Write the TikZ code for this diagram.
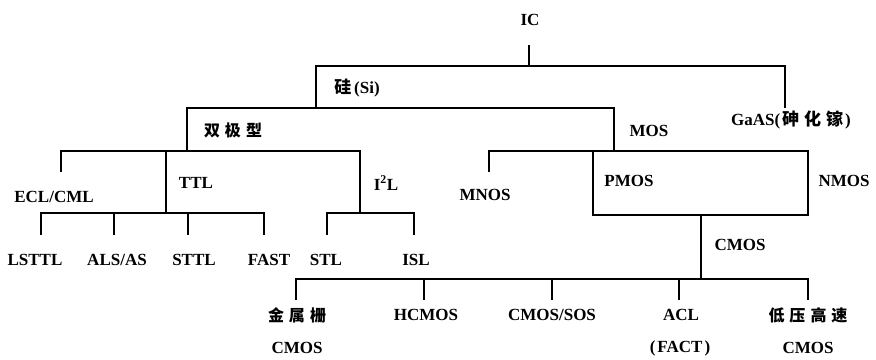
\documentclass[tikz,border=0pt]{standalone}
\usepackage{fontspec}
\setmainfont{Liberation Serif}
\newfontfamily\cjk{Noto Sans CJK SC}
\begin{document}
\begin{tikzpicture}[x=1pt,y=-1pt,line width=1.3pt,
  lbl/.style={font=\bfseries\fontsize{17}{17}\selectfont,inner sep=0pt},
  cj/.style={font=\cjk\bfseries\fontsize{16}{16}\selectfont,inner sep=0pt}]
\useasboundingbox (0,0) rectangle (876,359);
% labels
\node[lbl] (ic) at (530,20) {IC};
\node[lbl] (si) at (357,88) {{\cjk 硅}\,(Si)};
\node[cj] (bip) at (233,130) {双\kern5pt 极\kern5pt 型};
\node[lbl] (mos) at (649,131) {MOS};
\node[lbl] (gaas) at (791,120) {GaAS({\cjk\kern2pt 砷\kern5pt 化\kern5pt 镓\kern2pt})};
\node[lbl] (ecl) at (54,197) {ECL/CML};
\node[lbl] (ttl) at (196,183) {TTL};
\node[lbl] (iil) at (386,183) {I$^{\mathbf 2}$L};
\node[lbl] (mnos) at (485,195) {MNOS};
\node[lbl] (pmos) at (629,181) {PMOS};
\node[lbl] (nmos) at (844,181) {NMOS};
\node[lbl] (cmos) at (740,245) {CMOS};
\node[lbl] (lsttl) at (35,260) {LSTTL};
\node[lbl] (als) at (117,260) {ALS/AS};
\node[lbl] (sttl) at (194,260) {STTL};
\node[lbl] (fast) at (269,260) {FAST};
\node[lbl] (stl) at (326,260) {STL};
\node[lbl] (isl) at (416,260) {ISL};
\node[cj] (metal) at (297,315) {金\kern5pt 属\kern5pt 栅};
\node[lbl] (metalc) at (297,348) {CMOS};
\node[lbl] (hcmos) at (426,315) {HCMOS};
\node[lbl] (sos) at (552,315) {CMOS/SOS};
\node[lbl] (acl) at (681,315) {ACL};
\node[lbl] (fact) at (680,348) {({\kern2pt}FACT{\kern2pt})};
\node[cj] (lv) at (808,315) {低\kern5pt 压\kern5pt 高\kern5pt 速};
\node[lbl] (lvc) at (808,348) {CMOS};
% junction coordinates
\coordinate (icb) at (529,45);
\coordinate (l1) at (529,66);
\coordinate (siT) at (316,108);
\coordinate (gaT) at (785,108);
\coordinate (bipT) at (187,151);
\coordinate (mosT) at (614,151);
\coordinate (eclT) at (61,172);
\coordinate (ttlB) at (166,213);
\coordinate (iilB) at (360,213);
\coordinate (mnosT) at (489,172);
\coordinate (boxL) at (593,215);
\coordinate (boxR) at (808,215);
\coordinate (cmB) at (701,279);
% connectors
\draw (icb) -- (l1);
\draw (siT) |- (l1) -| (gaT);
\draw (bipT) |- (mosT |- siT) -- (mosT);
\draw (eclT) |- (iilB |- bipT) -- (iilB);
\draw (ttlB |- bipT) -- (ttlB);
\draw (41,235) |- (264,213) -- (264,235);
\draw (114,213) -- (114,235);
\draw (188,213) -- (188,235);
\draw (327,235) |- (414,213) -- (414,235);
\draw (mnosT) |- (boxR |- mosT) -- (boxR) -- (boxL) -- (boxL |- mosT);
\draw (701,215) -- (cmB);
\draw (296,300) |- (808,279) -- (808,300);
\draw (424,279) -- (424,300);
\draw (552,279) -- (552,300);
\draw (679,279) -- (679,300);
\end{tikzpicture}
\end{document}
